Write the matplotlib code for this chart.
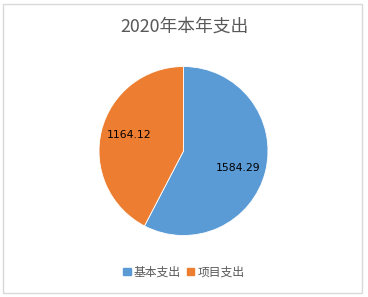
import matplotlib
matplotlib.use("Agg")
import matplotlib.pyplot as plt
from matplotlib.patches import Rectangle
import numpy as np

plt.rcParams['font.family'] = ['Noto Sans CJK SC', 'DejaVu Sans']

title = "2020年本年支出"
categories = ["基本支出", "项目支出"]
values = [1584.29, 1164.12]
labels = ["1584.29", "1164.12"]
colors = ["#5B9BD5", "#ED7D31"]

fig = plt.figure(figsize=(3.68, 2.97), dpi=100)
fig.patches.append(Rectangle((0.008, 0.012), 0.976, 0.975, transform=fig.transFigure,
                             fill=False, edgecolor="#D9D9D9", linewidth=1.0))

W, H = 368, 297
cx, cy, r = 183.5, 151, 84.5
ax = fig.add_axes([(cx - r) / W, 1 - (cy + r) / H, 2 * r / W, 2 * r / H])
wedges, _ = ax.pie(values, colors=colors, startangle=90, counterclock=False,
                   wedgeprops=dict(edgecolor="white", linewidth=0.6))
ax.set_xlim(-1, 1)
ax.set_ylim(-1, 1)
ax.set_aspect('equal')

label_pos = [(0.675, -17.3), (0.672, 163.6)]
for (d, a), lab in zip(label_pos, labels):
    t = np.deg2rad(a)
    ax.text(d * np.cos(t), d * np.sin(t), lab, ha='center', va='center',
            fontsize=7.8, color='black', family=['DejaVu Sans'])

fig.text(0.5, 1 - 27 / H, title, ha='center', va='center', fontsize=12.8, color='#595959')

handles = [Rectangle((0, 0), 1, 1, color=c) for c in colors]
fig.legend(handles, categories, loc='center', bbox_to_anchor=(0.5, 1 - 272 / H),
           ncol=2, frameon=False, fontsize=8.5, handlelength=0.6, handleheight=0.6,
           handletextpad=0.3, columnspacing=0.5, labelcolor='#595959')

fig.savefig("out.png", dpi=100)
